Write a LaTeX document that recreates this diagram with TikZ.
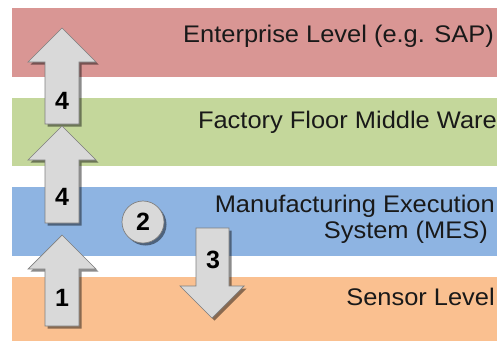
\documentclass[tikz,border=0pt]{standalone}
\usepackage{fontspec}
\setmainfont{Liberation Sans}
\newfontfamily\levelfont{Liberation Sans}[FakeStretch=1.06]
\usetikzlibrary{shadows}
\definecolor{entred}{HTML}{D99694}
\definecolor{midgreen}{HTML}{C4D79B}
\definecolor{mesblue}{HTML}{8EB4E2}
\definecolor{sensorange}{HTML}{FAC090}
\definecolor{arrowfill}{HTML}{D9D9D9}
\definecolor{arrowline}{HTML}{7F7F7F}
\begin{document}
\begin{tikzpicture}[x=1pt,y=-1pt,
  band/.style={draw=none},
  levellabel/.style={anchor=base east,inner sep=0pt,font=\levelfont\fontsize{24}{28}\selectfont,text=black!90},
  flowarrow/.style={fill=arrowfill,draw=arrowline,line width=0.7pt,line join=miter,
    drop shadow={shadow xshift=2.5pt,shadow yshift=-2.5pt,fill=black,opacity=0.45}},
  steplabel/.style={inner sep=0pt,font=\bfseries\fontsize{25}{25}\selectfont}]
\useasboundingbox (0,0) rectangle (497,340);

% horizontal level bands
\fill[band,entred]     (12,8)   rectangle (497,77);
\fill[band,midgreen]   (12,98)  rectangle (497,166);
\fill[band,mesblue]    (12,187) rectangle (497,256);
\fill[band,sensorange] (12,277) rectangle (497,345);

% level captions
\node[levellabel] (ent) at (494,42)  {Enterprise Level (e.g. SAP)};
\node[levellabel] (mid) at (497,128) {Factory Floor Middle Ware};
\node[levellabel] (mes1) at (495,212) {Manufacturing Execution};
\node[levellabel] (mes2) at (488,238) {System (MES)};
\node[levellabel] (sen) at (495,305) {Sensor Level};

% upward block arrows (tip y, head base y, tail y)
\path[flowarrow] (62,28) -- (96,62) -- (79,62) -- (79,124) -- (45,124) -- (45,62) -- (28,62) -- cycle;
\path[flowarrow] (62,126) -- (96,160) -- (79,160) -- (79,223) -- (45,223) -- (45,160) -- (28,160) -- cycle;
\path[flowarrow] (62,235) -- (96,269) -- (79,269) -- (79,326) -- (45,326) -- (45,269) -- (28,269) -- cycle;

% downward block arrow
\path[flowarrow] (196,228) -- (229,228) -- (229,286) -- (244,286) -- (212,318) -- (180,286) -- (196,286) -- cycle;

% step marker circle
\node[circle,minimum size=42pt,inner sep=0pt,flowarrow] (s2) at (143,222) {};

\node[steplabel] (n4a) at (62,101) {4};
\node[steplabel] (n4b) at (62,197) {4};
\node[steplabel] (n1)  at (62,298) {1};
\node[steplabel] (n3)  at (213,260) {3};
\node[steplabel] (n2)  at (s2) {2};
\end{tikzpicture}
\end{document}
